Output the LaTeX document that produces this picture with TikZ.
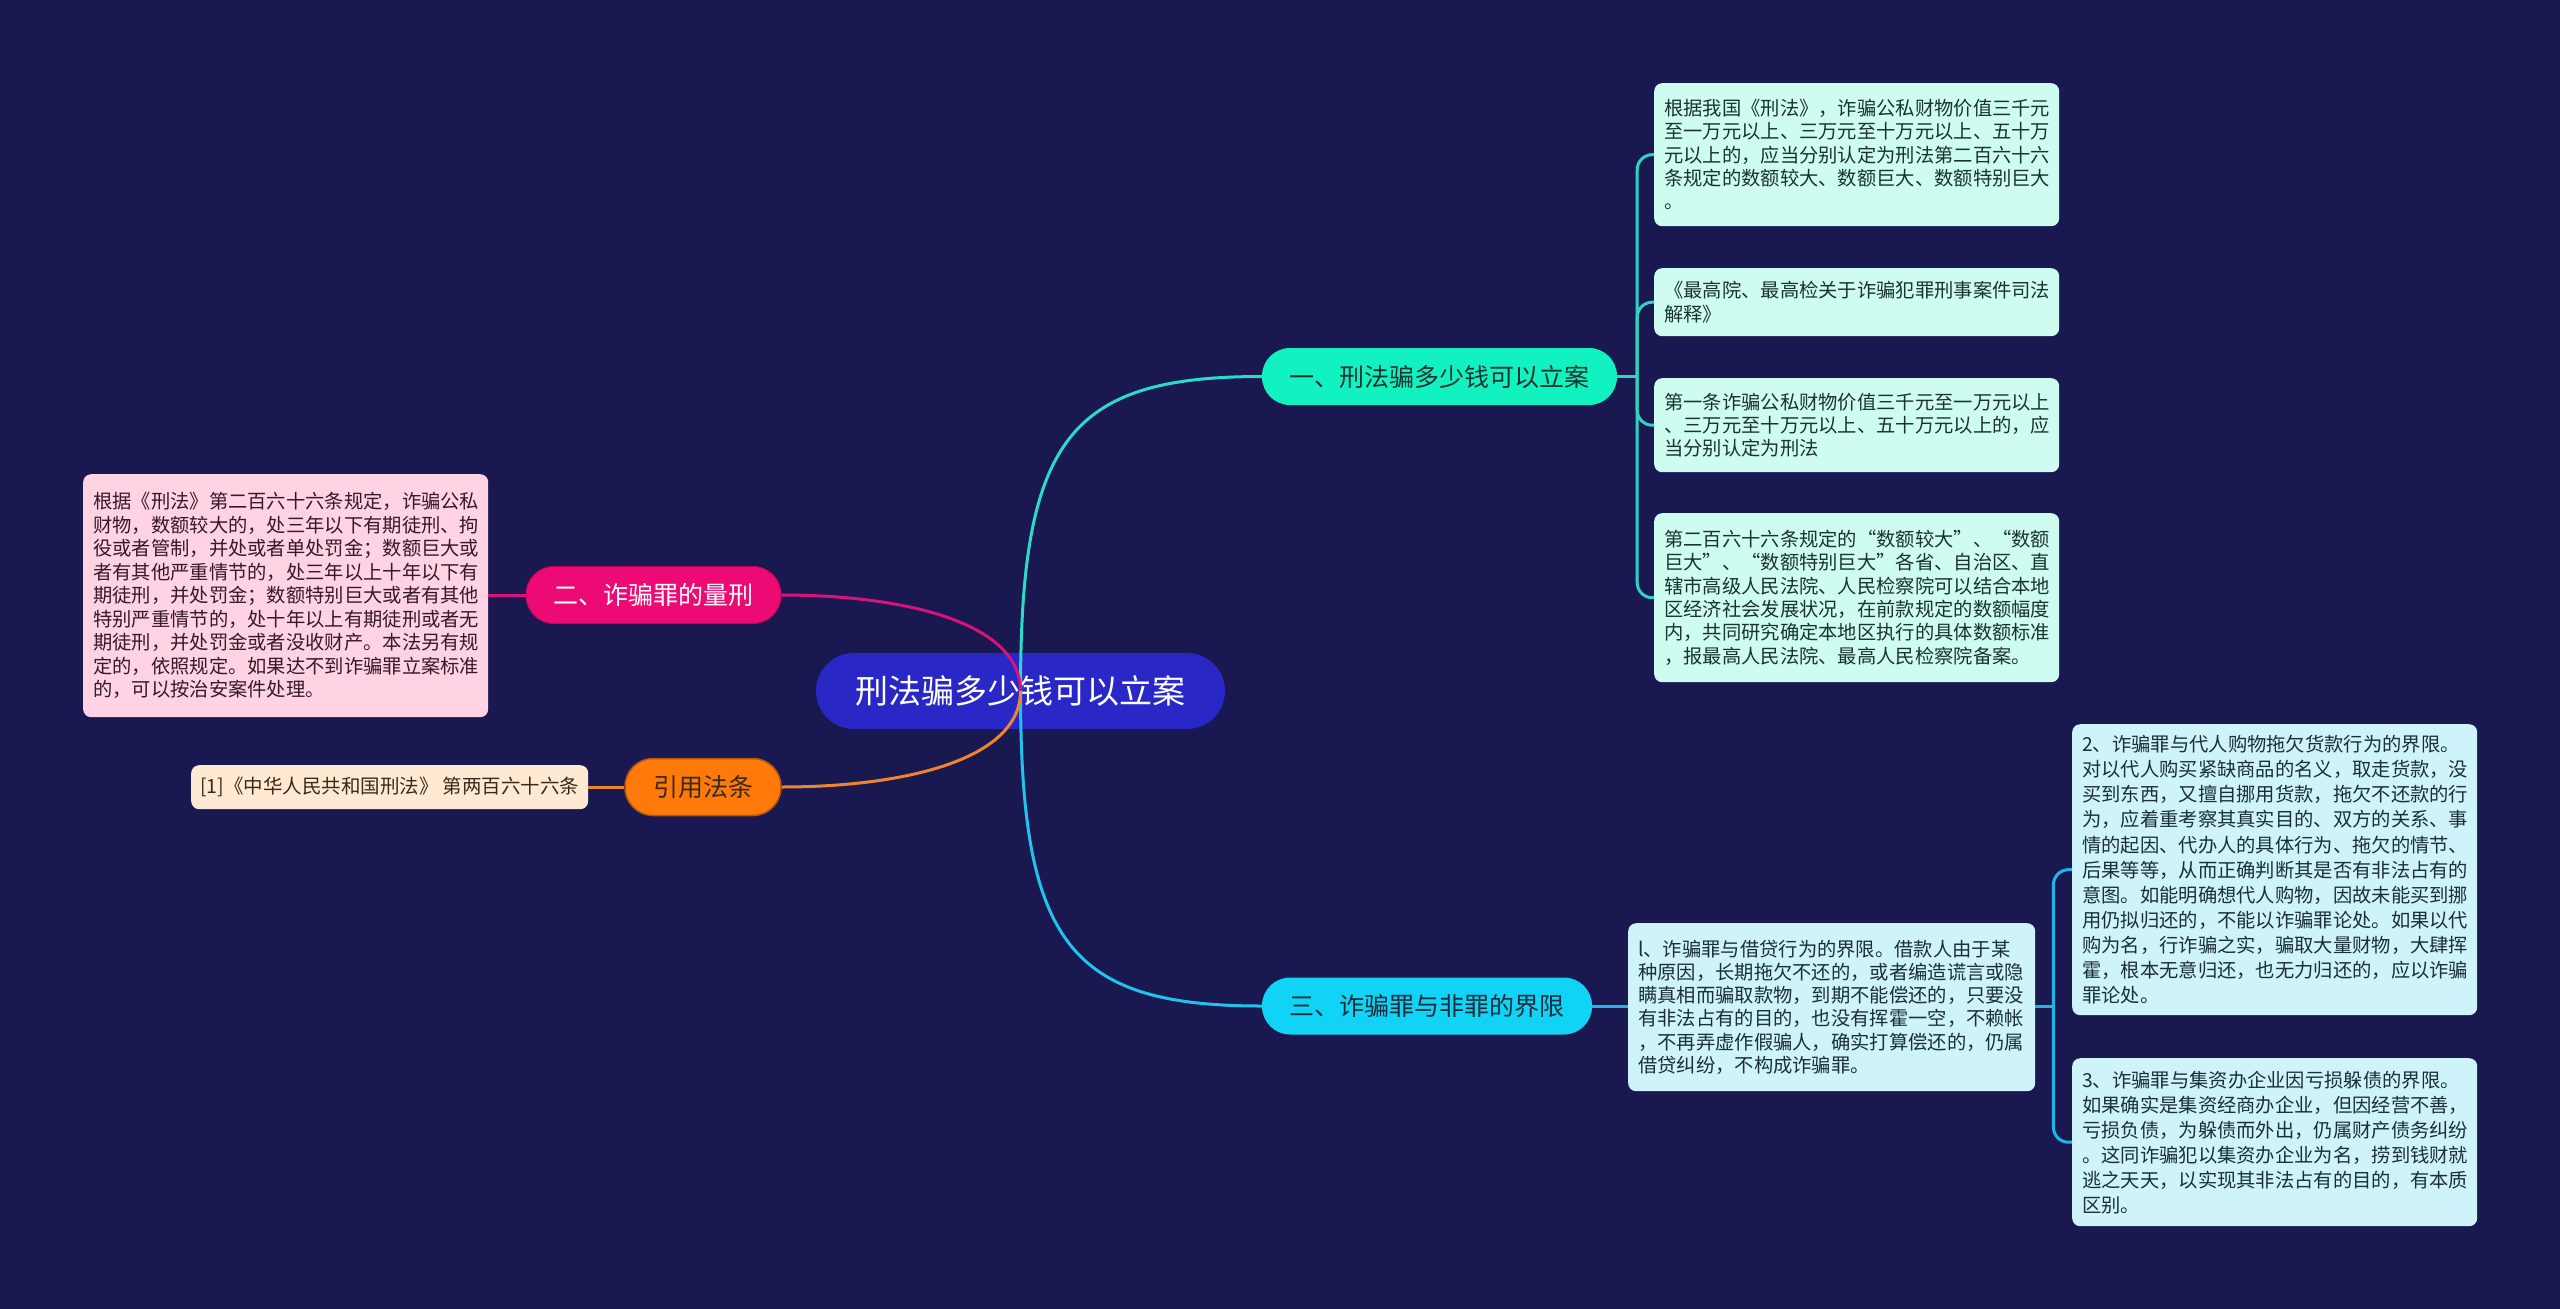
\documentclass[tikz,border=0pt]{standalone}
\usepackage{fontspec}
\setmainfont{Noto Sans CJK SC}
\definecolor{bgc}{HTML}{1A1851}
\definecolor{rootc}{HTML}{2A27C7}
\definecolor{bonec}{HTML}{12F2C0}
\definecolor{bthreec}{HTML}{10D3F5}
\definecolor{btwoc}{HTML}{EE0A74}
\definecolor{bfourc}{HTML}{FF7A0A}
\definecolor{lonefill}{HTML}{CEFCF1}
\definecolor{lthreefill}{HTML}{CFF3FB}
\definecolor{pinkfill}{HTML}{FFD3E4}
\definecolor{citefill}{HTML}{FFE9D2}
\definecolor{lonetext}{HTML}{1A3330}
\definecolor{lthreetext}{HTML}{1A2E3B}
\definecolor{pinktext}{HTML}{361A27}
\definecolor{citetext}{HTML}{3A2A1A}
\definecolor{conone}{HTML}{2ADBC8}
\definecolor{conthree}{HTML}{1FC3EC}
\definecolor{contwo}{HTML}{D8137A}
\definecolor{confour}{HTML}{EE842C}
\definecolor{leafonecon}{HTML}{2ED3C2}
\definecolor{leafthreecon}{HTML}{1DB6E6}
\begin{document}
\begin{tikzpicture}[x=1pt,y=-1pt,
  rootbox/.style={rectangle, fill=rootc, rounded corners=38pt, minimum width=409pt, minimum height=76pt, inner sep=0pt, text=white, font=\fontsize{33}{40}\selectfont},
  branchbox/.style={rectangle, rounded corners=28pt, minimum height=57pt, inner sep=0pt, font=\fontsize{25}{30}\selectfont},
  leafbox/.style={rectangle, anchor=north west, rounded corners=8pt, inner xsep=10pt, inner ysep=0pt, text width=385pt, align=left, font=\fontsize{19.3}{23.3}\selectfont},
  leafone/.style={leafbox, fill=lonefill, text=lonetext},
  leafthree/.style={leafbox, fill=lthreefill, text=lthreetext},
  mainconn/.style={line width=3pt},
  leafconn/.style={line width=3pt, rounded corners=15pt}
]
\fill[bgc] (0,0) rectangle (2560,1309);
\useasboundingbox (0,0) rectangle (2560,1309);

% root and branches
\node[rootbox] (root) at (1020.5,691) {刑法骗多少钱可以立案};
\node[branchbox, fill=bonec, text=lonetext, minimum width=355pt] (bone) at (1439.5,376.5) {一、刑法骗多少钱可以立案};
\node[branchbox, fill=bthreec, text=lthreetext, minimum width=330pt] (bthree) at (1427,1006) {三、诈骗罪与非罪的界限};
\node[branchbox, fill=btwoc, text=white, minimum width=255pt, draw=btwoc!80!black, line width=1pt] (btwo) at (653.5,595) {二、诈骗罪的量刑};
\node[branchbox, fill=bfourc, text=citetext, minimum width=156pt, draw=bfourc!70!black, line width=1.5pt] (bfour) at (703,787) {引用法条};

% branch one leaves
\node[leafone, minimum height=143pt] (la) at (1654,83) {根据我国《刑法》，诈骗公私财物价值三千元\\至一万元以上、三万元至十万元以上、五十万\\元以上的，应当分别认定为刑法第二百六十六\\条规定的数额较大、数额巨大、数额特别巨大\\。};
\node[leafone, minimum height=68pt] (lb) at (1654,268) {《最高院、最高检关于诈骗犯罪刑事案件司法\\解释》};
\node[leafone, minimum height=94pt] (lc) at (1654,378) {第一条诈骗公私财物价值三千元至一万元以上\\、三万元至十万元以上、五十万元以上的，应\\当分别认定为刑法};
\node[leafone, minimum height=169pt] (ld) at (1654,513) {第二百六十六条规定的“数额较大”、“数额\\巨大”、“数额特别巨大”各省、自治区、直\\辖市高级人民法院、人民检察院可以结合本地\\区经济社会发展状况，在前款规定的数额幅度\\内，共同研究确定本地区执行的具体数额标准\\，报最高人民法院、最高人民检察院备案。};

% branch two leaf
\node[leafbox, fill=pinkfill, text=pinktext, minimum height=243pt, font=\fontsize{19.3}{23.5}\selectfont] (lp) at (83,474) {根据《刑法》第二百六十六条规定，诈骗公私\\财物，数额较大的，处三年以下有期徒刑、拘\\役或者管制，并处或者单处罚金；数额巨大或\\者有其他严重情节的，处三年以上十年以下有\\期徒刑，并处罚金；数额特别巨大或者有其他\\特别严重情节的，处十年以上有期徒刑或者无\\期徒刑，并处罚金或者没收财产。本法另有规\\定的，依照规定。如果达不到诈骗罪立案标准\\的，可以按治安案件处理。};

% citation leaf
\node[rectangle, anchor=north west, rounded corners=8pt, fill=citefill, text=citetext, minimum width=397pt, minimum height=44pt, inner sep=0pt, font=\fontsize{19.5}{23}\selectfont] (lcite) at (191,765) {[1]《中华人民共和国刑法》 第两百六十六条};

% branch three leaves
\node[leafthree, minimum height=168pt, text width=387pt] (le) at (1628,923) {l、诈骗罪与借贷行为的界限。借款人由于某\\种原因，长期拖欠不还的，或者编造谎言或隐\\瞒真相而骗取款物，到期不能偿还的，只要没\\有非法占有的目的，也没有挥霍一空，不赖帐\\，不再弄虚作假骗人，确实打算偿还的，仍属\\借贷纠纷，不构成诈骗罪。};
\node[leafthree, minimum height=291pt, font=\fontsize{19.3}{25.1}\selectfont] (lf) at (2072,724) {2、诈骗罪与代人购物拖欠货款行为的界限。\\对以代人购买紧缺商品的名义，取走货款，没\\买到东西，又擅自挪用货款，拖欠不还款的行\\为，应着重考察其真实目的、双方的关系、事\\情的起因、代办人的具体行为、拖欠的情节、\\后果等等，从而正确判断其是否有非法占有的\\意图。如能明确想代人购物，因故未能买到挪\\用仍拟归还的，不能以诈骗罪论处。如果以代\\购为名，行诈骗之实，骗取大量财物，大肆挥\\霍，根本无意归还，也无力归还的，应以诈骗\\罪论处。};
\node[leafthree, minimum height=168pt, font=\fontsize{19.3}{25}\selectfont] (lg) at (2072,1058) {3、诈骗罪与集资办企业因亏损躲债的界限。\\如果确实是集资经商办企业，但因经营不善，\\亏损负债，为躲债而外出，仍属财产债务纠纷\\。这同诈骗犯以集资办企业为名，捞到钱财就\\逃之天天，以实现其非法占有的目的，有本质\\区别。};

% main connectors
\draw[mainconn, conone] (root.center) .. controls +(0,-252) and +(-193,0) .. (bone.west);
\draw[mainconn, conthree] (root.center) .. controls +(0,252) and +(-193,0) .. (bthree.west);
\draw[mainconn, contwo] (root.center) .. controls +(0,-70) and +(119,0) .. (btwo.east);
\draw[mainconn, confour] (root.center) .. controls +(0,70) and +(119,0) .. (bfour.east);

% branch one leaf connectors
\draw[mainconn, leafonecon] (bone.east) -- ++(20,0) coordinate (sone);
\draw[leafconn, leafonecon] (sone) |- (la.west);
\draw[leafconn, leafonecon] (sone) |- (lb.west);
\draw[leafconn, leafonecon] (sone) |- (lc.west);
\draw[leafconn, leafonecon] (sone) |- (ld.west);

% branch two / four leaf connectors
\draw[mainconn, contwo] (btwo.west) -- (lp.east |- btwo.west);
\draw[mainconn, confour] (bfour.west) -- (lcite.east |- bfour.west);

% branch three leaf connectors
\draw[mainconn, leafthreecon] (bthree.east) -- (le.west |- bthree.east);
\draw[mainconn, leafthreecon] (le.east |- bthree.east) -- ++(18,0) coordinate (sthree);
\draw[leafconn, leafthreecon] (sthree) |- (lf.west);
\draw[leafconn, leafthreecon] (sthree) |- (lg.west);
\end{tikzpicture}
\end{document}
